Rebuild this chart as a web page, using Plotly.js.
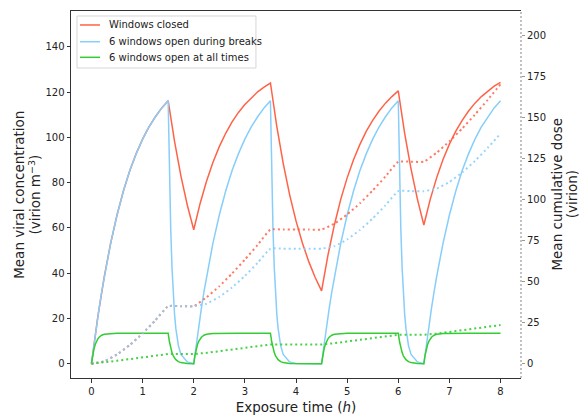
<!DOCTYPE html>
<html>
<head>
<meta charset="utf-8">
<script src="https://cdn.plot.ly/plotly-3.0.1.min.js"></script>
<style>html,body{margin:0;padding:0;background:#fff;}#chart{width:582px;height:418px;}</style>
</head>
<body>
<div id="chart"></div>
<script>
// Time grid for the "windows closed" concentration (h)
var hoursClosed = [0,0.125,0.25,0.375,0.5,0.625,0.75,0.875,1,1.125,1.25,1.375,1.5,
1.625,1.75,1.875,2,2.125,2.25,2.375,2.5,2.625,2.75,2.875,3,3.125,3.25,3.375,3.5,
3.625,3.75,3.875,4,4.125,4.25,4.375,4.5,4.625,4.75,4.875,5,5.125,5.25,5.375,5.5,
5.625,5.75,5.875,6,6.125,6.25,6.375,6.5,6.625,6.75,6.875,7,7.125,7.25,7.375,7.5,
7.625,7.75,7.875,8];
var concClosed = [0,20.8,38.4,53.2,65.7,76.3,85.3,92.8,99.2,104.6,109.1,113.0,116.2,
98.2,82.9,70.0,59.2,70.8,80.6,88.9,95.9,101.8,106.8,111.0,114.5,117.5,120.1,122.2,124.0,
104.7,88.5,74.7,63.1,53.3,45.1,38.1,32.2,48.0,61.3,72.6,82.1,90.1,96.9,102.7,107.5,
111.6,115.1,118.0,120.5,101.8,86.0,72.6,61.3,72.6,82.1,90.2,97.0,102.7,107.5,111.6,
115.1,118.0,120.5,122.6,124.3];

// Finer time grid for the ventilated scenarios (h)
var hoursVent = [0,0.025,0.05,0.075,0.1,0.125,0.15,0.2,0.25,0.375,0.5,0.625,0.75,0.875,1,1.125,1.25,1.375,
1.5,1.525,1.55,1.575,1.6,1.625,1.65,1.7,1.75,1.875,
2,2.025,2.05,2.075,2.1,2.125,2.15,2.2,2.25,2.375,2.5,2.625,2.75,2.875,3,3.125,3.25,3.375,
3.5,3.525,3.55,3.575,3.6,3.625,3.65,3.7,3.75,3.875,4,4.125,4.25,4.375,
4.5,4.525,4.55,4.575,4.6,4.625,4.65,4.7,4.75,4.875,5,5.125,5.25,5.375,5.5,5.625,5.75,5.875,
6,6.025,6.05,6.075,6.1,6.125,6.15,6.2,6.25,6.375,
6.5,6.525,6.55,6.575,6.6,6.625,6.65,6.7,6.75,6.875,7,7.125,7.25,7.375,7.5,7.625,7.75,7.875,
8];
var concBreaks = [0,4.4,8.7,12.9,16.9,20.8,24.6,31.7,38.4,53.2,65.7,76.3,85.3,92.8,99.2,104.6,109.1,113.0,
116.2,83.1,59.5,42.5,30.4,21.8,15.6,8.0,4.1,0.8,
0,4.4,8.7,12.9,16.9,20.8,24.6,31.7,38.4,53.2,65.7,76.3,85.3,92.8,99.2,104.6,109.1,113.0,
116.2,83.1,59.5,42.5,30.4,21.8,15.6,8.0,4.1,0.8,0.1,0,0,0,
0,4.4,8.7,12.9,16.9,20.8,24.6,31.7,38.4,53.2,65.7,76.3,85.3,92.8,99.2,104.6,109.1,113.0,
116.2,83.1,59.5,42.5,30.4,21.8,15.6,8.0,4.1,0.8,
0,4.4,8.7,12.9,16.9,20.8,24.6,31.7,38.4,53.2,65.7,76.3,85.3,92.8,99.2,104.6,109.1,113.0,
116.2];
var concAllTimes = [0,3.8,6.6,8.6,10.0,11.0,11.7,12.6,13.0,13.4,13.5,13.5,13.5,13.5,13.5,13.5,13.5,13.5,
13.5,9.7,6.9,4.9,3.5,2.5,1.8,0.9,0.5,0.1,
0,3.8,6.6,8.6,10.0,11.0,11.7,12.6,13.0,13.4,13.5,13.5,13.5,13.5,13.5,13.5,13.5,13.5,
13.5,9.7,6.9,4.9,3.5,2.5,1.8,0.9,0.5,0.1,0,0,0,0,
0,3.8,6.6,8.6,10.0,11.0,11.7,12.6,13.0,13.4,13.5,13.5,13.5,13.5,13.5,13.5,13.5,13.5,
13.5,9.7,6.9,4.9,3.5,2.5,1.8,0.9,0.5,0.1,
0,3.8,6.6,8.6,10.0,11.0,11.7,12.6,13.0,13.4,13.5,13.5,13.5,13.5,13.5,13.5,13.5,13.5,
13.5];

// Cumulative dose (virion)
var hoursDose = [0,0.25,0.5,0.75,1,1.25,1.5,1.75,2,2.25,2.5,2.75,3,3.25,3.5,3.75,4,4.25,4.5,
4.75,5,5.25,5.5,5.75,6,6.25,6.5,6.75,7,7.25,7.5,7.75,8];
var doseClosed = [0,1.5,5.6,11.4,18.4,26.4,35.0,35.0,35.0,40.4,47.1,54.9,63.3,72.3,81.6,81.6,81.6,81.6,81.6,
85.2,90.8,97.6,105.4,113.9,122.9,122.9,122.9,128.4,135.3,143.1,151.6,160.6,170.0];
var doseBreaks = [0,1.5,5.6,11.4,18.4,26.4,35.0,35.0,35.0,36.5,40.6,46.4,53.4,61.4,70.0,70.0,70.0,70.0,70.0,
71.5,75.6,81.4,88.4,96.4,105.0,105.0,105.0,106.5,110.6,116.4,123.4,131.4,140.0];
var doseAllTimes = [0,0.7,1.8,2.8,3.8,4.8,5.9,5.9,5.9,6.6,7.6,8.7,9.7,10.7,11.7,11.7,11.7,11.7,11.7,
12.5,13.5,14.5,15.6,16.6,17.6,17.6,17.6,18.3,19.4,20.4,21.4,22.5,23.5];

var seriesNames = ['Windows closed','6 windows open during breaks','6 windows open at all times'];
var seriesColors = ['#ff6347','#87cefa','#32cd32'];
var leftTitle = ['Mean viral concentration','(virion m<sup>−3</sup>)'];
var rightTitle = ['Mean cumulative dose','(virion)'];

var font = '"DejaVu Sans", "Liberation Sans", sans-serif';
var txt = '#222';

var traces = [
  {x: hoursClosed, y: concClosed, name: seriesNames[0], mode:'lines', line:{color:seriesColors[0], width:1.5}},
  {x: hoursVent, y: concBreaks, name: seriesNames[1], mode:'lines', line:{color:seriesColors[1], width:1.5}},
  {x: hoursVent, y: concAllTimes, name: seriesNames[2], mode:'lines', line:{color:seriesColors[2], width:1.5}},
  {x: hoursDose, y: doseClosed, yaxis:'y2', name: seriesNames[0]+' (dose)', mode:'lines', opacity:0.85, line:{color:seriesColors[0], width:2, dash:'2px,3px', shape:'spline', smoothing:0.4}},
  {x: hoursDose, y: doseBreaks, yaxis:'y2', name: seriesNames[1]+' (dose)', mode:'lines', opacity:0.85, line:{color:seriesColors[1], width:2, dash:'2px,3px', shape:'spline', smoothing:0.4}},
  {x: hoursDose, y: doseAllTimes, yaxis:'y2', name: seriesNames[2]+' (dose)', mode:'lines', opacity:0.9, line:{color:seriesColors[2], width:2, dash:'2px,3px'}}
];

// Hand-built legend (matplotlib-like compact box)
var legendRowsY = [0.9619, 0.9163, 0.8738];
var shapes = [
  {type:'line', xref:'paper', yref:'paper', x0:1, x1:1, y0:0, y1:1, line:{color:'#999', width:1.2, dash:'2px,2px'}},
  {type:'rect', xref:'paper', yref:'paper', x0:0.0133, x1:0.411, y0:0.8447, y1:0.9864,
   line:{color:'#d6d6d6', width:1}, fillcolor:'rgba(255,255,255,0.85)', layer:'above'}
];
var annotations = [
  {xref:'paper', yref:'paper', x:-0.117, y:0.5, text:leftTitle[0], textangle:-90, showarrow:false,
   xanchor:'center', yanchor:'middle', font:{family:font, size:13.5, color:txt}},
  {xref:'paper', yref:'paper', x:-0.082, y:0.5, text:leftTitle[1], textangle:-90, showarrow:false,
   xanchor:'center', yanchor:'middle', font:{family:font, size:13.5, color:txt}},
  {xref:'paper', yref:'paper', x:1.078, y:0.5, text:rightTitle[0], textangle:-90, showarrow:false,
   xanchor:'center', yanchor:'middle', font:{family:font, size:13.5, color:txt}},
  {xref:'paper', yref:'paper', x:1.113, y:0.5, text:rightTitle[1], textangle:-90, showarrow:false,
   xanchor:'center', yanchor:'middle', font:{family:font, size:13.5, color:txt}}
];
for (var i = 0; i < 3; i++) {
  shapes.push({type:'line', xref:'paper', yref:'paper', x0:0.02, x1:0.0644, y0:legendRowsY[i], y1:legendRowsY[i],
               line:{color:seriesColors[i], width:1.5}, layer:'above'});
  annotations.push({xref:'paper', yref:'paper', x:0.0793, y:legendRowsY[i], text:seriesNames[i], showarrow:false,
                    xanchor:'left', yanchor:'middle', font:{family:font, size:10, color:txt}});
}

var layout = {
  width: 582, height: 418,
  margin: {l:71, r:61, t:11, b:40},
  paper_bgcolor:'#fff', plot_bgcolor:'#fff',
  font: {family: font, size: 10, color:txt},
  showlegend: false,
  xaxis: {range:[-0.4,8.4], tickvals:[0,1,2,3,4,5,6,7,8], ticks:'outside', ticklen:3.5, tickcolor:'#333',
          showline:true, linecolor:'#333', linewidth:1, mirror:true, showgrid:false, zeroline:false,
          tickfont:{size:10, color:txt},
          title:{text:'Exposure time (<i>h</i>)', font:{size:13.5, color:txt}, standoff:7}},
  yaxis: {range:[-6.3,155.8], tickvals:[0,20,40,60,80,100,120,140], ticks:'outside', ticklen:3.5, tickcolor:'#333',
          showline:true, linecolor:'#333', linewidth:1, showgrid:false, zeroline:false,
          tickfont:{size:10, color:txt}},
  yaxis2: {overlaying:'y', side:'right', range:[-8.7,214.6], tickvals:[0,25,50,75,100,125,150,175,200],
          ticks:'outside', ticklen:3, tickcolor:'#999', showline:false, showgrid:false, zeroline:false,
          tickfont:{size:10, color:txt}},
  shapes: shapes,
  annotations: annotations
};

Plotly.newPlot('chart', traces, layout, {displayModeBar:false, staticPlot:true});
</script>
</body>
</html>
